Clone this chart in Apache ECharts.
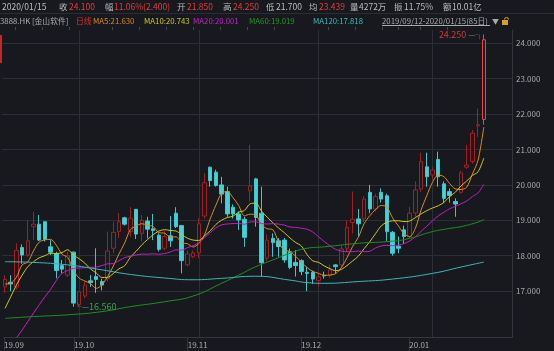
<!DOCTYPE html>
<html>
<head>
<meta charset="utf-8">
<script src="https://cdn.jsdelivr.net/npm/echarts@6/dist/echarts.min.js"></script>
<style>
html, body { margin: 0; padding: 0; background: #17191e; }
#myChart { width: 554px; height: 351px; }
</style>
</head>
<body>
<div id="myChart"></div>
<script>
// trading days per month (HK market)
var sepDays = [12,13,16,17,18,19,20,23,24,25,26,27,30];
var octDays = [2,3,4,8,9,10,11,14,15,16,17,18,21,22,23,24,25,28,29,30,31];
var novDays = [1,4,5,6,7,8,11,12,13,14,15,18,19,20,21,22,25,26,27,28,29];
var decDays = [2,3,4,5,6,9,10,11,12,13,16,17,18,19,20,23,24,27,30,31];
var janDays = [2,3,6,7,8,9,10,13,14,15];

var opens = [17.12,17.25,17.12,18.23,18.02,18.82,18.89,18.96,18.25,18.05,
             17.72,17.45,18.10,16.62,16.86,17.29,17.41,17.27,17.35,18.21,
             18.68,19.07,18.68,19.31,18.63,18.98,18.76,18.58,18.21,18.56,
             19.20,18.85,17.74,17.97,18.08,19.12,20.50,20.36,20.00,19.81,
             19.37,19.18,19.03,19.83,20.17,19.20,17.93,18.49,18.42,18.44,
             18.11,17.81,17.86,17.53,17.53,17.30,17.45,17.44,17.74,17.74,
             18.21,18.94,19.04,19.04,19.79,19.32,19.79,19.69,18.66,18.27,
             18.73,18.54,19.21,19.88,20.51,20.28,20.72,20.03,19.81,19.53,
             19.79,20.50,20.66,21.67,21.85];
var closes = [17.33,17.20,18.15,18.02,18.42,18.89,18.44,18.46,18.10,17.58,
              17.62,18.00,16.66,16.98,17.17,17.24,17.33,17.17,18.13,18.66,
              18.96,18.89,19.06,18.61,19.00,18.75,18.71,18.18,18.54,18.42,
              18.82,17.86,18.05,18.08,18.90,20.06,20.12,19.98,19.74,19.18,
              19.18,19.01,18.52,19.97,19.08,17.80,18.44,18.37,18.26,17.88,
              17.67,17.72,17.55,17.50,17.34,17.40,17.43,17.60,17.69,18.19,
              18.80,19.03,18.90,19.60,19.32,19.67,19.60,18.68,18.07,18.21,
              18.54,19.20,19.86,20.66,20.23,20.42,20.23,19.62,19.70,19.46,
              20.34,20.56,21.46,21.70,24.10];
var lows = [16.95,17.00,17.05,17.77,17.97,18.44,18.42,18.40,18.02,17.36,
            17.50,17.40,16.56,16.58,16.80,17.12,16.95,17.02,17.27,18.07,
            18.50,18.85,18.54,18.47,18.40,18.49,18.44,18.12,18.15,18.25,
            18.78,17.50,17.70,17.93,17.93,19.05,19.95,19.95,19.48,19.10,
            19.05,18.73,18.25,19.53,18.82,17.41,17.85,17.97,17.97,17.80,
            17.62,17.41,17.45,17.00,17.20,17.12,17.35,17.38,17.50,17.66,
            18.10,18.63,18.54,18.95,19.20,19.25,19.50,18.42,18.00,18.07,
            18.33,18.50,19.10,19.80,19.95,20.15,19.95,19.50,19.50,19.10,
            19.75,20.45,20.60,21.36,21.70];
var highs = [17.45,17.45,18.35,18.32,19.00,19.24,19.15,18.97,18.44,18.11,
             17.88,18.11,18.12,17.00,17.27,17.45,18.21,17.35,18.68,18.96,
             19.20,19.10,19.37,19.32,19.15,19.10,19.18,18.63,18.70,19.12,
             19.37,18.87,18.15,18.15,19.06,20.33,20.52,20.43,20.23,19.95,
             19.45,19.25,19.10,21.13,20.20,19.95,18.60,18.63,18.50,18.50,
             18.20,18.16,17.90,17.69,17.58,17.50,17.55,17.75,17.76,18.30,
             19.00,19.81,19.32,19.68,20.00,19.75,19.90,19.75,18.70,18.54,
             18.85,19.38,20.10,20.91,20.91,20.50,20.94,20.10,19.90,19.62,
             20.40,21.13,21.55,22.16,24.25];

// moving averages before enough closes exist
var ma5Lead = [17.20,17.22,17.39,17.74];
var ma10Lead = [16.51,16.84,17.17,17.45,17.69,17.83,17.94,18.00,18.07];
var ma20Lead = [15.20,15.45,15.68,15.90,16.14,16.38,16.61,16.84,17.05,17.30,
                17.50,17.58,17.64,17.65,17.66,17.67,17.68,17.72,17.77];
// long averages: [day index, value]
var ma60Read = [[0,16.23],[5,16.28],[11,16.33],[17,16.42],[22,16.56],[28,16.70],
                [33,16.86],[38,17.22],[41,17.45],[44,17.69],[47,17.88],[50,18.07],
                [53,18.21],[56,18.25],[62,18.35],[68,18.41],[71,18.49],[75,18.68],
                [78,18.77],[80,18.82],[83,18.95],[84,19.02]];
var ma120Read = [[0,17.83],[5,17.81],[11,17.74],[17,17.60],[22,17.47],[28,17.37],
                 [33,17.32],[38,17.36],[44,17.42],[50,17.31],[53,17.24],[56,17.22],
                 [62,17.27],[68,17.34],[75,17.50],[80,17.68],[84,17.82]];

var priceTicks = [17, 24];

var dates = [];
[['2019','09',sepDays],['2019','10',octDays],['2019','11',novDays],['2019','12',decDays],['2020','01',janDays]].forEach(function(m){
    m[2].forEach(function(d){ dates.push(m[0] + '-' + m[1] + '-' + (d < 10 ? '0' + d : d)); });
});
var stripDates = dates.slice();
while (stripDates.length < 95) stripDates.push('');

function isMonthStart(i, arr){
    if (!arr[i]) return false;
    return i === 0 || arr[i].substr(5,2) !== arr[i-1].substr(5,2);
}
function isMonday(i, arr){
    if (!arr[i]) return false;
    return new Date(arr[i] + 'T00:00:00Z').getUTCDay() === 1;
}

function movingAvg(n, lead){
    return closes.map(function(c, i){
        if (i < n - 1) return lead[i];
        var s = 0;
        for (var k = i - n + 1; k <= i; k++) s += closes[k];
        return +(s / n).toFixed(3);
    });
}

var candleData = dates.map(function(d, i){
    var item = { value: [opens[i], closes[i], lows[i], highs[i]] };
    if (i === dates.length - 1) item.itemStyle = { borderColor: '#e8484a', color: '#1c1a1f' };
    return item;
});

var FONT = '"Noto Sans CJK SC", "Noto Sans", sans-serif';
var gray = '#bcbcbc', red = '#e23c3c';

function txt(s, x, y, color, size){
    return { type: 'text', x: x, y: y, silent: true,
        style: { text: s, fill: color, font: (size || 8.5) + 'px ' + FONT, verticalAlign: 'middle' } };
}

var myChart = echarts.init(document.getElementById('myChart'), null, { renderer: 'canvas' });

var option = {
    backgroundColor: '#17191e',
    animation: false,
    grid: [
        { left: 5, width: 478.8, top: 30, height: 307 },
        { left: 2, right: 42, top: 43.3, height: 247.8 },
        { left: 4, width: 508, top: 30, height: 307 }
    ],
    xAxis: [
        { type: 'category', gridIndex: 0, data: dates, boundaryGap: false,
          axisLine: { show: false }, axisTick: { show: false }, axisLabel: { show: false },
          splitLine: { show: true, lineStyle: { color: '#2c2f35' },
                       interval: function(i){ return i > 0 && isMonthStart(i, dates); } } },
        { type: 'value', gridIndex: 1, show: false },
        { type: 'category', gridIndex: 2, data: stripDates, boundaryGap: false,
          axisLine: { show: true, lineStyle: { color: '#33363d' } },
          axisTick: { show: true, length: 14, lineStyle: { color: '#33363d' },
                      interval: function(i){ return isMonthStart(i, stripDates); } },
          axisLabel: { show: true, color: '#a8a8a8', fontSize: 8, fontFamily: FONT, align: 'left', margin: 4,
                       interval: function(i){ return isMonthStart(i, stripDates); },
                       formatter: function(v){ return v ? v.substr(2,2) + '.' + v.substr(5,2) : ''; } },
          splitLine: { show: false } },
        { type: 'category', gridIndex: 2, data: stripDates, boundaryGap: false,
          axisLine: { show: false }, axisLabel: { show: false },
          axisTick: { show: true, length: 3, lineStyle: { color: '#44474e' },
                      interval: function(i){ return isMonday(i, stripDates) && !isMonthStart(i, stripDates); } } }
    ],
    yAxis: [
        { type: 'value', gridIndex: 0, min: 15.703, max: 24.376, show: false },
        { type: 'value', gridIndex: 1, position: 'right', min: priceTicks[0], max: priceTicks[1], interval: 1,
          axisLine: { show: false },
          axisTick: { show: true, length: 3, lineStyle: { color: '#2c2f35' } },
          axisLabel: { color: '#a8a8a8', fontSize: 8, fontFamily: FONT, margin: 4,
                       formatter: function(v){ return v.toFixed(3); } },
          splitLine: { show: true, lineStyle: { color: '#2c2f35' } } },
        { type: 'value', gridIndex: 2, position: 'right', min: 0, max: 1,
          axisLine: { show: true, lineStyle: { color: '#33363d' } },
          axisTick: { show: false }, axisLabel: { show: false }, splitLine: { show: false } }
    ],
    series: [
        { name: 'K', type: 'candlestick', xAxisIndex: 0, yAxisIndex: 0, barWidth: 4,
          data: candleData,
          itemStyle: { color: '#1d1a1f', color0: '#45d2d6', borderColor: '#a31f22', borderColor0: '#3fc6ca', borderWidth: 1 },
          markPoint: {
              symbol: 'circle', symbolSize: 1, itemStyle: { color: 'rgba(0,0,0,0)' },
              data: [
                  { type: 'max', valueDim: 'highest',
                    label: { position: 'left', distance: 0, fontSize: 9, fontFamily: FONT,
                             formatter: function(p){ return '{v|' + p.value.toFixed(3) + '}{d| —┐}'; },
                             rich: { v: { color: '#d2393c', fontSize: 9 }, d: { color: '#8a8a8a', fontSize: 8 } } } },
                  { type: 'min', valueDim: 'lowest',
                    label: { position: 'right', distance: 0, fontSize: 9, fontFamily: FONT,
                             formatter: function(p){ return '{d|└—}{v|' + p.value.toFixed(3) + '}'; },
                             rich: { v: { color: '#3aa64a', fontSize: 9 }, d: { color: '#8a8a8a', fontSize: 8 } } } }
              ]
          } },
        { name: 'MA5', type: 'line', data: movingAvg(5, ma5Lead), showSymbol: false, smooth: 0.3,
          lineStyle: { width: 1, color: '#dc8b1c' }, z: 3 },
        { name: 'MA10', type: 'line', data: movingAvg(10, ma10Lead), showSymbol: false, smooth: 0.3,
          lineStyle: { width: 1, color: '#cfc81e' }, z: 3 },
        { name: 'MA20', type: 'line', data: movingAvg(20, ma20Lead), showSymbol: false, smooth: 0.3,
          lineStyle: { width: 1, color: '#c21ec4' }, z: 3 },
        { name: 'MA60', type: 'line', data: ma60Read, showSymbol: false, smooth: true,
          lineStyle: { width: 1, color: '#1f8f22' }, z: 3 },
        { name: 'MA120', type: 'line', data: ma120Read, showSymbol: false, smooth: true,
          lineStyle: { width: 1, color: '#3cb6b8' }, z: 3 }
    ],
    graphic: [
        { type: 'line', silent: true, shape: { x1: 0, y1: 13.5, x2: 554, y2: 13.5 }, style: { stroke: '#2a2d33' } },
        txt('2020/01/15', 2, 7, gray),
        txt('收', 59, 7, gray), txt('24.100', 69, 7, red),
        txt('幅', 105, 7, gray), txt('11.06%(2.400)', 114, 7, red),
        txt('开', 177, 7, gray), txt('21.850', 187, 7, red),
        txt('高', 223, 7, gray), txt('24.250', 233, 7, red),
        txt('低', 266, 7, gray), txt('21.700', 276, 7, gray),
        txt('均', 309, 7, gray), txt('23.439', 319, 7, red),
        txt('量', 350, 7, gray), txt('4272万', 359, 7, gray),
        txt('振', 394, 7, gray), txt('11.75%', 404, 7, gray),
        txt('额', 443, 7, gray), txt('10.01亿', 452, 7, gray),
        txt('3888.HK [金山软件]', 0, 21, '#a9a9a9', 7.8),
        txt('日线', 76, 21, '#e02c2c', 7.8),
        txt('MA5:21.630', 93, 21, '#d98a1c', 7.8),
        txt('MA10:20.743', 144, 21, '#cdc61c', 7.8),
        txt('MA20:20.001', 193, 21, '#c620c8', 7.8),
        txt('MA60:19.019', 249, 21, '#1f9a22', 7.8),
        txt('MA120:17.818', 313, 21, '#3ab9bb', 7.8),
        txt('2019/09/12-2020/01/15(85日)', 382, 21, '#a9a9a9', 7.8),
        { type: 'line', silent: true, shape: { x1: 382, y1: 25.5, x2: 490, y2: 25.5 }, style: { stroke: '#a9a9a9' } },
        txt('▼', 492, 21, '#a9a9a9', 7),
        { type: 'rect', silent: true, shape: { x: 502, y: 20, width: 6, height: 5 }, style: { fill: '#d9a21a' } },
        { type: 'arc', silent: true, shape: { cx: 506.5, cy: 19.5, r: 2, startAngle: Math.PI, endAngle: 2 * Math.PI }, style: { stroke: '#d9a21a', fill: null } },
        { type: 'rect', silent: true, shape: { x: 0, y: 35, width: 2, height: 28 }, style: { fill: '#c0282a' } }
    ]
};

myChart.setOption(option);
</script>
</body>
</html>
